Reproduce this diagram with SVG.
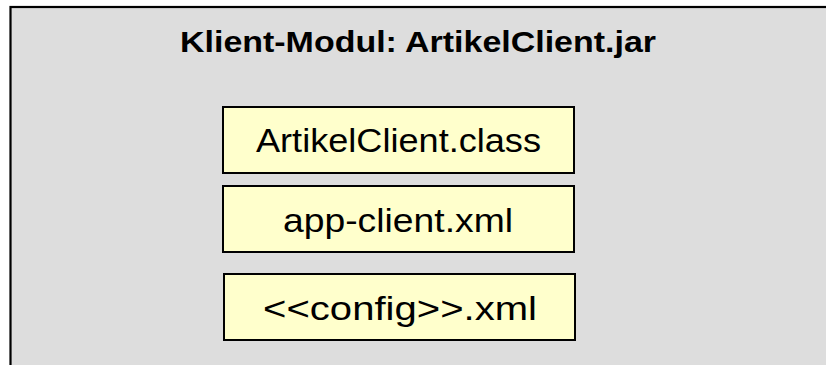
<svg xmlns="http://www.w3.org/2000/svg" width="826" height="365" viewBox="0 0 826 365">
  <style>
    .module { fill: #DDDDDD; stroke: #000000; stroke-width: 2.2; }
    .file { fill: #FFFFCC; stroke: #000000; stroke-width: 2; }
    .title { font-family: "Liberation Sans", Arial, sans-serif; font-weight: bold; font-size: 30px; fill: #000000; }
    .label { font-family: "Liberation Sans", Arial, sans-serif; font-size: 33px; fill: #000000; text-anchor: middle; }
  </style>
  <rect width="826" height="365" fill="#FFFFFF"/>
  <g id="modul">
    <rect class="module" x="10.5" y="7" width="900" height="500"/>
    <text class="title" x="180" y="52" textLength="476" lengthAdjust="spacingAndGlyphs">Klient-Modul: ArtikelClient.jar</text>
  </g>
  <g id="artikelclient-class">
    <rect class="file" x="223" y="107" width="351" height="66"/>
    <text class="label" x="398.5" y="152" textLength="285" lengthAdjust="spacingAndGlyphs">ArtikelClient.class</text>
  </g>
  <g id="app-client-xml">
    <rect class="file" x="223" y="186" width="351" height="66"/>
    <text class="label" x="398" y="232" textLength="230" lengthAdjust="spacingAndGlyphs">app-client.xml</text>
  </g>
  <g id="config-xml">
    <rect class="file" x="224" y="274" width="351" height="66"/>
    <text class="label" x="400" y="320" textLength="274" lengthAdjust="spacingAndGlyphs">&lt;&lt;config&gt;&gt;.xml</text>
  </g>
  <g id="connectors"/>
</svg>
